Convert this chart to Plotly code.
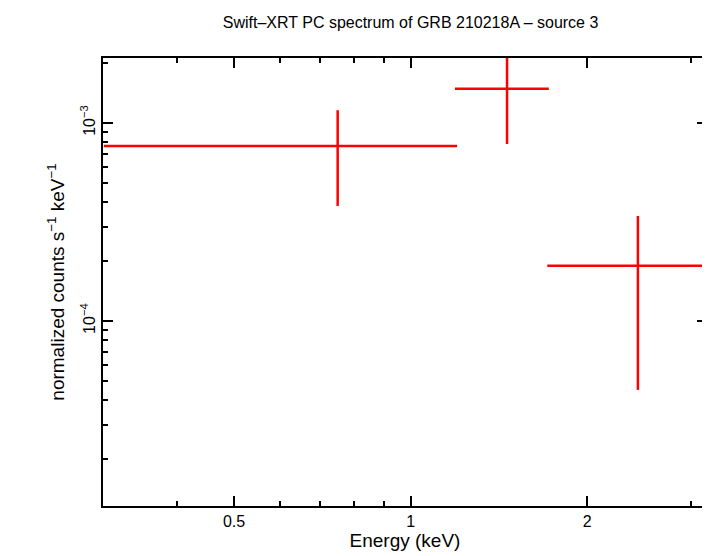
import plotly.graph_objects as go
import numpy as np

x_center = [0.751, 1.46, 2.44]
x_lo = [0.30, 1.19, 1.71]
x_hi = [1.20, 1.72, 3.2]
y_val = [7.66e-4, 1.49e-3, 1.90e-4]
y_top = [1.16e-3, 2.3e-3, 3.39e-4]
y_bot = [3.81e-4, 7.83e-4, 4.49e-5]

fig = go.Figure()
fig.add_trace(go.Scatter(
    x=x_center, y=y_val, mode="markers",
    marker=dict(size=1, color="red"),
    error_x=dict(type="data", symmetric=False,
                 array=[h - c for h, c in zip(x_hi, x_center)],
                 arrayminus=[c - l for c, l in zip(x_center, x_lo)],
                 color="red", thickness=2.5, width=0),
    error_y=dict(type="data", symmetric=False,
                 array=[t - v for t, v in zip(y_top, y_val)],
                 arrayminus=[v - b for v, b in zip(y_val, y_bot)],
                 color="red", thickness=2.5, width=0),
    showlegend=False))

font = dict(family="Liberation Sans, Arial", size=16, color="black")
fig.update_layout(
    width=710, height=556, plot_bgcolor="white", paper_bgcolor="white",
    margin=dict(l=95, r=9, t=50, b=58),
    title=dict(text="Swift–XRT PC spectrum of GRB 210218A – source 3",
               x=0.567, xanchor="center", y=0.985, yanchor="top", font=font),
    font=font,
    xaxis=dict(type="log", range=[np.log10(0.299), np.log10(3.2)],
               tickvals=[0.5, 1, 2], ticktext=["0.5", "1", "2"],
               ticks="inside", ticklen=10, tickwidth=1.5, tickcolor="black",
               minor=dict(tickvals=[0.3, 0.4, 0.6, 0.7, 0.8, 0.9, 3], ticks="inside",
                          ticklen=5, tickcolor="black", tickwidth=1.5),
               showline=True, linecolor="black", linewidth=2, mirror="ticks",
               showgrid=False, zeroline=False,
               title=dict(text="Energy (keV)", standoff=2)),
    yaxis=dict(type="log", range=[-4.934, -2.672],
               tickvals=[1e-4, 1e-3], ticktext=["10<sup>−4</sup>", "10<sup>−3</sup>"],
               tickangle=-90,
               ticks="inside", ticklen=10, tickwidth=1.5, tickcolor="black",
               minor=dict(tickvals=[2e-5, 3e-5, 4e-5, 5e-5, 6e-5, 7e-5, 8e-5, 9e-5,
                                    2e-4, 3e-4, 4e-4, 5e-4, 6e-4, 7e-4, 8e-4, 9e-4, 2e-3],
                          ticks="inside", ticklen=5, tickcolor="black", tickwidth=1.5),
               showline=True, linecolor="black", linewidth=2, mirror="ticks",
               showgrid=False, zeroline=False,
               title=dict(text="normalized counts s<sup>−1</sup> keV<sup>−1</sup>", standoff=8)),
)
fig.write_html("out.html")
